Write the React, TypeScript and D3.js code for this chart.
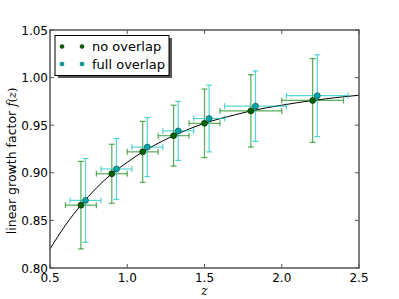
import * as d3 from 'd3';

const width = 399;
const height = 299;
const marginLeft = 50;
const marginRight = 40;
const marginTop = 30;
const marginBottom = 31;

// model curve f(z)
const curveZ = [0.5, 0.6, 0.7, 0.8, 0.9, 1.0, 1.1, 1.2, 1.3, 1.4, 1.5, 1.7, 1.8, 2.0, 2.2, 2.5];
const curveF = [0.820, 0.845, 0.866, 0.884, 0.899, 0.911, 0.922, 0.931, 0.939, 0.946, 0.952, 0.961, 0.965, 0.971, 0.976, 0.9815];

// no overlap
const noZ = [0.7, 0.9, 1.1, 1.3, 1.5, 1.8, 2.2];
const noF = [0.866, 0.899, 0.922, 0.939, 0.952, 0.965, 0.976];
const noZErr = [0.1, 0.1, 0.1, 0.1, 0.1, 0.2, 0.2];
const noFErr = [0.046, 0.031, 0.032, 0.032, 0.036, 0.038, 0.044];

// full overlap
const fullZ = [0.73, 0.93, 1.13, 1.33, 1.53, 1.83, 2.23];
const fullF = [0.871, 0.904, 0.927, 0.944, 0.957, 0.970, 0.981];
const fullZErr = [0.1, 0.1, 0.1, 0.1, 0.1, 0.2, 0.2];
const fullFErr = [0.044, 0.032, 0.031, 0.031, 0.035, 0.037, 0.043];

const xTicks = [0.5, 1.0, 1.5, 2.0, 2.5];
const yTicks = [0.8, 0.85, 0.9, 0.95, 1.0, 1.05];

const font = "'DejaVu Sans', sans-serif";
const serif = "'DejaVu Serif', serif";

const x = d3.scaleLinear().domain([0.5, 2.5]).range([marginLeft, width - marginRight]);
const y = d3.scaleLinear().domain([0.8, 1.05]).range([height - marginBottom, marginTop]);

const line = d3
  .line<number>()
  .x((d, i) => x(curveZ[i]))
  .y((d) => y(d))
  .curve(d3.curveMonotoneX);

function ErrorSeries(props: { zs: number[]; fs: number[]; ze: number[]; fe: number[]; color: string }) {
  const { zs, fs, ze, fe, color } = props;
  const cap = 3;
  return (
    <g stroke={color} strokeOpacity={0.65} strokeWidth={1.2} fill="none">
      {zs.map((z, i) => {
        const cx = x(z);
        const cy = y(fs[i]);
        const x0 = x(z - ze[i]);
        const x1 = x(z + ze[i]);
        const y0 = y(fs[i] - fe[i]);
        const y1 = y(fs[i] + fe[i]);
        return (
          <g key={i}>
            <line x1={x0} x2={x1} y1={cy} y2={cy} />
            <line x1={cx} x2={cx} y1={y0} y2={y1} />
            <line x1={x0} x2={x0} y1={cy - cap} y2={cy + cap} />
            <line x1={x1} x2={x1} y1={cy - cap} y2={cy + cap} />
            <line x1={cx - cap} x2={cx + cap} y1={y0} y2={y0} />
            <line x1={cx - cap} x2={cx + cap} y1={y1} y2={y1} />
          </g>
        );
      })}
    </g>
  );
}

export default function App() {
  const x0 = marginLeft;
  const x1 = width - marginRight;
  const y0 = height - marginBottom;
  const y1 = marginTop;
  const frame = '#555555';

  return (
    <svg
      width={width}
      height={height}
      style={{ position: 'absolute', left: 0, top: 0, background: '#fff', fontFamily: font }}
    >
      <defs>
        <clipPath id="plot">
          <rect x={x0} y={y1} width={x1 - x0} height={y0 - y1} />
        </clipPath>
      </defs>

      <g clipPath="url(#plot)">
        <path d={line(curveF) || ''} fill="none" stroke="#000" strokeWidth={1} />
        <ErrorSeries zs={noZ} fs={noF} ze={noZErr} fe={noFErr} color="#008000" />
        <ErrorSeries zs={fullZ} fs={fullF} ze={fullZErr} fe={fullFErr} color="#00bfbf" />
        {noZ.map((z, i) => (
          <circle key={'n' + i} cx={x(z)} cy={y(noF[i])} r={3} fill="#006400" stroke="#002000" strokeWidth={0.6} />
        ))}
        {fullZ.map((z, i) => (
          <circle key={'f' + i} cx={x(z)} cy={y(fullF[i])} r={3} fill="#00a6a6" stroke="#004848" strokeWidth={0.6} />
        ))}
      </g>

      {/* ticks, inside on all sides */}
      <g stroke={frame} strokeWidth={1}>
        {xTicks.map((t) => (
          <g key={'xt' + t}>
            <line x1={x(t)} x2={x(t)} y1={y0} y2={y0 - 4} />
            <line x1={x(t)} x2={x(t)} y1={y1} y2={y1 + 4} />
          </g>
        ))}
        {yTicks.map((t) => (
          <g key={'yt' + t}>
            <line x1={x0} x2={x0 + 4} y1={y(t)} y2={y(t)} />
            <line x1={x1} x2={x1 - 4} y1={y(t)} y2={y(t)} />
          </g>
        ))}
      </g>

      <rect x={x0} y={y1} width={x1 - x0} height={y0 - y1} fill="none" stroke={frame} strokeWidth={1.5} />

      <g style={{ fontSize: 12, fontFamily: font }} fill="#000">
        {xTicks.map((t) => (
          <text key={'xl' + t} x={x(t)} y={y0 + 13.5} textAnchor="middle">
            {t.toFixed(1)}
          </text>
        ))}
        {yTicks.map((t) => (
          <text key={'yl' + t} x={x0 - 2} y={y(t) + 4.5} textAnchor="end">
            {t.toFixed(2)}
          </text>
        ))}
      </g>

      <text x={(x0 + x1) / 2} y={height - 4} textAnchor="middle" style={{ fontSize: 12, fontStyle: 'italic', fontFamily: serif }}>
        z
      </text>

      <text
        transform={`translate(16,${(y0 + y1) / 2 + 12}) rotate(-90)`}
        textAnchor="middle"
        style={{ fontSize: 12.5, fontFamily: font }}
      >
        linear growth factor{' '}
        <tspan style={{ fontStyle: 'italic', fontFamily: serif }}>f</tspan>
        <tspan style={{ fontSize: 11, fontFamily: serif }}>(</tspan>
        <tspan style={{ fontSize: 11, fontStyle: 'italic', fontFamily: serif }}>z</tspan>
        <tspan style={{ fontSize: 11, fontFamily: serif }}>)</tspan>
      </text>

      {/* legend */}
      <g style={{ fontSize: 13, fontFamily: font }}>
        <rect x={58} y={38} width={114} height={40} fill="#555" />
        <rect x={55} y={35.5} width={114} height={40} fill="#fff" stroke="#000" strokeWidth={1} />
        <circle cx={62} cy={46.5} r={2} fill="#006400" stroke="#002000" strokeWidth={0.5} />
        <circle cx={82} cy={46.5} r={2} fill="#006400" stroke="#002000" strokeWidth={0.5} />
        <text x={92} y={51}>no overlap</text>
        <circle cx={62} cy={64} r={2} fill="#00a6a6" stroke="#004848" strokeWidth={0.5} />
        <circle cx={82} cy={64} r={2} fill="#00a6a6" stroke="#004848" strokeWidth={0.5} />
        <text x={92} y={68.5}>full overlap</text>
      </g>
    </svg>
  );
}
